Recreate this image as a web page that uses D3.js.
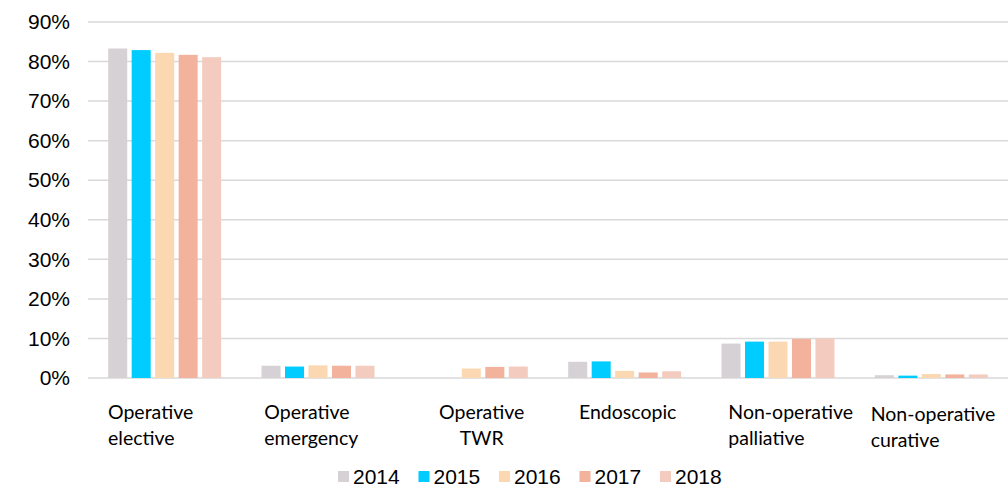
<!DOCTYPE html>
<html>
<head>
<meta charset="utf-8">
<script src="https://cdn.jsdelivr.net/npm/d3@7"></script>
<style>
  body { margin: 0; background: #fff; }
  svg { display: block; }
</style>
</head>
<body>
<div id="chart"></div>
<script>
// categories and series (share of cases, %)
var categories = ["Operative elective", "Operative emergency", "Operative TWR",
                  "Endoscopic", "Non-operative palliative", "Non-operative curative"];
var categoryLines = [["Operative", "elective"], ["Operative", "emergency"], ["Operative", "TWR"],
                     ["Endoscopic"], ["Non-operative", "palliative"], ["Non-operative", "curative"]];
var years = ["2014", "2015", "2016", "2017", "2018"];
var values2014 = [83.3, 3.1, 0, 4.1, 8.7, 0.7];
var values2015 = [82.9, 2.9, 0, 4.2, 9.2, 0.6];
var values2016 = [82.2, 3.2, 2.4, 1.8, 9.2, 1.0];
var values2017 = [81.7, 3.1, 2.8, 1.4, 9.9, 0.9];
var values2018 = [81.1, 3.1, 2.9, 1.7, 10.0, 0.9];
var yTicks = [0, 10, 20, 30, 40, 50, 60, 70, 80, 90];

var series = [values2014, values2015, values2016, values2017, values2018];
var colors = ["#d6d1d5", "#00ccff", "#fbd8b1", "#f2b29b", "#f4cbbf"];

var width = 1008,
    height = 487;
var margin = {top: 22, right: 0, bottom: 109, left: 88};

var svg = d3.select("#chart").append("svg")
    .attr("width", width)
    .attr("height", height);

var x0 = d3.scaleBand()
    .domain(categories)
    .range([margin.left, width - margin.right]);

var x1 = d3.scaleBand()
    .domain(years)
    .range([0, x0.bandwidth()])
    .paddingInner(0.19)
    .paddingOuter(0.86);

var y = d3.scaleLinear()
    .domain([0, 90])
    .range([height - margin.bottom, margin.top]);

// gridlines
svg.append("g")
    .selectAll("line")
    .data(yTicks)
  .enter().append("line")
    .attr("x1", margin.left)
    .attr("x2", width - margin.right)
    .attr("y1", function(d) { return y(d); })
    .attr("y2", function(d) { return y(d); })
    .attr("stroke", "#d9d9d9")
    .attr("stroke-width", 1.5);

// y axis labels
var yAxis = d3.axisLeft(y)
    .tickValues(yTicks)
    .tickFormat(function(d) { return d + "%"; })
    .tickSize(0)
    .tickPadding(18);

svg.append("g")
    .attr("transform", "translate(" + margin.left + ",0)")
    .call(yAxis)
    .call(function(g) { g.select(".domain").remove(); })
    .attr("font-family", "'Liberation Sans', Arial, sans-serif")
    .attr("font-size", 21)
    .selectAll("text")
    .attr("fill", "#000");

// bars
var groups = svg.append("g")
    .selectAll("g")
    .data(categories)
  .enter().append("g")
    .attr("transform", function(d) { return "translate(" + x0(d) + ",0)"; });

groups.selectAll("rect")
    .data(function(d, i) {
        return years.map(function(yr, j) { return {year: yr, value: series[j][i], idx: j}; });
    })
  .enter().append("rect")
    .filter(function(d) { return d.value > 0; })
    .attr("x", function(d) { return x1(d.year); })
    .attr("y", function(d) { return y(d.value); })
    .attr("width", x1.bandwidth())
    .attr("height", function(d) { return y(0) - y(d.value); })
    .attr("fill", function(d) { return colors[d.idx]; });

// category labels (Excel placed them unevenly)
var labelDx = [20, 23, 87, 31, 27, 16];
var labelDy = [0, 0, 0, 0, 0, 2];
var labelAnchor = ["start", "start", "middle", "start", "start", "start"];

var labels = svg.append("g")
    .selectAll("text")
    .data(categories)
  .enter().append("text")
    .attr("x", function(d, i) { return x0(d) + labelDx[i]; })
    .attr("y", function(d, i) { return y(0) + 41 + labelDy[i]; })
    .attr("text-anchor", function(d, i) { return labelAnchor[i]; })
    .attr("font-family", "Lato, 'Open Sans', sans-serif")
    .attr("font-size", 19.5)
    .attr("fill", "#000");

labels.each(function(d, i) {
    var t = d3.select(this);
    categoryLines[i].forEach(function(line, k) {
        t.append("tspan")
            .attr("x", t.attr("x"))
            .attr("dy", k === 0 ? 0 : 26)
            .text(line);
    });
});

// legend
var legendStep = 80.5;
var legend = svg.append("g")
    .attr("transform", "translate(338,471)");

var item = legend.selectAll("g")
    .data(years)
  .enter().append("g")
    .attr("transform", function(d, i) { return "translate(" + (i * legendStep) + ",0)"; });

item.append("rect")
    .attr("width", 11)
    .attr("height", 11)
    .attr("fill", function(d, i) { return colors[i]; });

item.append("text")
    .attr("x", 15)
    .attr("y", 13)
    .attr("font-family", "'Liberation Sans', Arial, sans-serif")
    .attr("font-size", 21)
    .attr("fill", "#000")
    .text(function(d) { return d; });
</script>
</body>
</html>
